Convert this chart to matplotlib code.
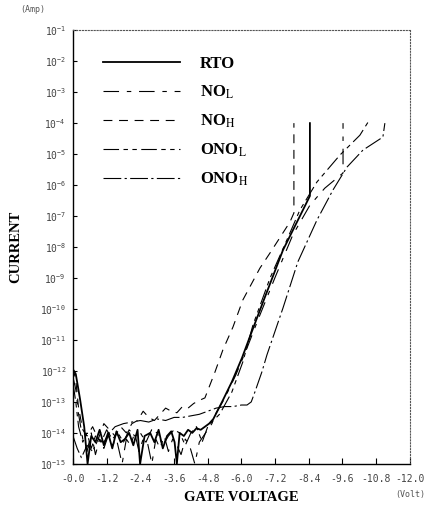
import matplotlib.pyplot as plt
import numpy as np

plt.rcParams['mathtext.fontset'] = 'stix'

# gate voltage (V) and log10 of current (A)
rto_v = [0.0, -0.10, -0.25, -0.40, -0.52, -0.65, -0.80, -0.95, -1.10, -1.25, -1.40, -1.55,
         -1.70, -1.85, -2.00, -2.15, -2.30, -2.39, -2.55, -2.75, -2.90, -3.05, -3.20, -3.35,
         -3.50, -3.62, -3.70, -3.80, -3.95, -4.10, -4.25, -4.40, -4.55, -4.70, -4.85, -5.00,
         -5.31, -5.66, -6.02, -6.30, -6.73, -7.48, -7.98, -8.44, -8.44]
rto_logi = [-11.95, -12.1, -12.9, -13.8, -15.0, -14.1, -14.3, -13.9, -14.4, -14.0, -14.5, -13.95,
            -14.3, -14.2, -14.0, -14.4, -13.9, -15.0, -14.1, -14.0, -14.3, -13.9, -14.5, -14.1,
            -13.95, -14.3, -15.0, -14.0, -14.1, -13.9, -14.0, -13.85, -13.9, -13.8, -13.7, -13.55,
            -13.0, -12.35, -11.58, -10.9, -9.87, -8.1, -7.19, -6.35, -4.0]

nol_v = [0.0, -0.10, -0.20, -0.35, -0.50, -0.65, -0.80, -0.95, -1.10, -1.25, -1.40, -1.55,
         -1.75, -1.90, -2.05, -2.20, -2.35, -2.50, -2.65, -2.81, -2.95, -3.10, -3.25, -3.40,
         -3.55, -3.70, -3.85, -4.00, -4.15, -4.34, -4.50, -4.65, -4.80, -4.95,
         -5.06, -5.41, -5.80, -6.20, -6.59, -7.19, -7.83, -8.44, -8.97, -9.62, -9.62]
nol_logi = [-12.2, -12.6, -13.4, -14.2, -14.6, -14.0, -14.7, -14.2, -14.5, -14.1, -14.4, -14.2,
            -15.0, -14.2, -14.4, -14.0, -14.6, -14.2, -14.3, -15.0, -14.2, -14.5, -14.1, -14.6,
            -14.2, -14.4, -14.7, -14.2, -14.4, -15.0, -14.3, -14.1, -13.9, -13.7,
            -13.42, -12.87, -12.13, -11.26, -10.35, -9.0, -7.61, -6.65, -6.1, -5.61, -4.0]

noh_v = [0.0, -0.10, -0.20, -0.35, -0.50, -0.70, -0.90, -1.10, -1.30, -1.50, -1.70, -1.90,
         -2.10, -2.30, -2.50, -2.70, -2.90, -3.10, -3.30, -3.50, -3.70, -3.90, -4.10, -4.30,
         -4.50, -4.70, -5.06, -5.34, -5.70, -6.05, -6.66, -7.02, -7.73, -7.87, -7.87]
noh_logi = [-11.9, -12.3, -13.2, -13.9, -14.1, -13.8, -14.2, -13.7, -13.9, -14.1, -13.8, -14.0,
            -13.7, -13.6, -13.3, -13.5, -13.6, -13.4, -13.2, -13.3, -13.35, -13.15, -13.2, -13.05,
            -12.95, -12.87, -12.03, -11.32, -10.58, -9.71, -8.68, -8.19, -7.19, -6.9, -4.0]

onol_v = [0.0, -0.10, -0.20, -0.35, -0.50, -0.65, -0.80, -1.00, -1.20, -1.40, -1.60, -1.80,
          -2.00, -2.20, -2.40, -2.60, -2.80, -3.00, -3.20, -3.40, -3.60, -3.80, -4.00, -4.20,
          -4.40, -4.60, -4.80, -5.00, -5.23, -5.66, -6.05, -6.41, -7.02, -7.62, -8.08, -8.69,
          -9.51, -10.22, -10.51]
onol_logi = [-12.4, -13.0, -13.8, -14.3, -14.0, -14.5, -14.1, -14.3, -13.9, -14.2, -14.0, -14.3,
             -13.9, -14.1, -14.0, -14.3, -13.9, -14.0, -14.4, -14.1, -13.9, -14.0, -14.4, -14.0,
             -13.8, -14.3, -13.8, -13.6, -13.39, -12.68, -11.71, -10.52, -9.0, -7.77, -6.81, -5.9,
             -5.03, -4.39, -3.97]

onoh_v = [0.0, -0.15, -0.30, -0.50, -0.70, -0.90, -1.10, -1.30, -1.50, -1.80, -2.10, -2.40,
          -2.70, -3.00, -3.30, -3.60, -3.90, -4.20, -4.50, -4.80, -5.10, -5.40, -5.70, -6.00,
          -6.20, -6.35, -6.48, -6.73, -6.91, -7.48, -8.01, -8.69, -9.26, -9.76, -10.33, -11.04,
          -11.11]
onoh_logi = [-14.1, -14.5, -14.8, -14.4, -14.6, -14.2, -14.3, -14.0, -13.8, -13.7, -13.65, -13.6,
             -13.65, -13.55, -13.6, -13.5, -13.5, -13.45, -13.4, -13.3, -13.2, -13.15, -13.15, -13.1,
             -13.1, -13.0, -12.68, -12.03, -11.48, -9.97, -8.48, -7.13, -6.16, -5.42, -4.87, -4.45,
             -4.0]

x_ticks = [0.0, -1.2, -2.4, -3.6, -4.8, -6.0, -7.2, -8.4, -9.6, -10.8, -12.0]
x_labels = ['-0.0', '-1.2', '-2.4', '-3.6', '-4.8', '-6.0', '-7.2', '-8.4', '-9.6', '-10.8', '-12.0']
y_exps = list(range(-15, 0))

fig = plt.figure(figsize=(4.45, 5.12), dpi=100)
ax = fig.add_axes([0.164, 0.094, 0.757, 0.847])

ax.plot(rto_v, 10.0 ** np.array(rto_logi), color='k', lw=1.3, ls='-', label='RTO')
ax.plot(nol_v, 10.0 ** np.array(nol_logi), color='k', lw=0.8, ls=(0, (14, 7, 4, 7)),
        label=r'NO$_{\rm L}$')
ax.plot(noh_v, 10.0 ** np.array(noh_logi), color='k', lw=0.8, ls=(0, (8, 6)),
        label=r'NO$_{\rm H}$')
ax.plot(onol_v, 10.0 ** np.array(onol_logi), color='k', lw=0.8, ls=(0, (14, 4, 4, 4, 4, 4)),
        label=r'ONO$_{\rm L}$')
ax.plot(onoh_v, 10.0 ** np.array(onoh_logi), color='k', lw=0.8, ls=(0, (16, 3, 2, 3)),
        label=r'ONO$_{\rm H}$')

ax.set_yscale('log')
ax.set_ylim(1e-15, 1e-1)
ax.set_xlim(0, -12)
ax.set_yticks([10.0 ** e for e in y_exps])
ax.set_yticklabels([r'$\mathregular{10^{%d}}$' % e for e in y_exps])
ax.yaxis.set_minor_locator(plt.NullLocator())
ax.set_xticks(x_ticks)
ax.set_xticklabels(x_labels)

for lab in ax.get_xticklabels() + ax.get_yticklabels():
    lab.set_fontfamily('DejaVu Sans Mono')
ax.tick_params(axis='both', direction='in', width=0.8, labelsize=7, labelcolor='#444444')
ax.tick_params(axis='y', length=3, pad=5)
ax.tick_params(axis='x', length=4, pad=7)

ax.spines['left'].set_linewidth(1.0)
ax.spines['bottom'].set_linewidth(1.0)
for s in ['top', 'right']:
    ax.spines[s].set_linestyle(':')
    ax.spines[s].set_linewidth(0.8)
    ax.spines[s].set_color('#555555')

ax.set_ylabel('CURRENT', fontfamily='Liberation Serif', fontweight='bold', fontsize=10.5)
ax.yaxis.set_label_coords(-0.15, 0.5)
ax.set_xlabel('GATE VOLTAGE', fontfamily='Liberation Serif', fontweight='bold', fontsize=10.5)
ax.xaxis.set_label_coords(0.5, -0.062)

fig.text(20 / 445, 1 - 10 / 512, '(Amp)', fontfamily='DejaVu Sans Mono', fontsize=6,
         color='#555555', va='center')
fig.text(395 / 445, 1 - 494 / 512, '(Volt)', fontfamily='DejaVu Sans Mono', fontsize=6,
         color='#555555', va='center')

ax.legend(loc='upper left', bbox_to_anchor=(0.089, 0.94), frameon=False, borderpad=0,
          borderaxespad=0, handlelength=4.6, handletextpad=1.2, labelspacing=0.7,
          prop={'family': 'Liberation Serif', 'weight': 'bold', 'size': 12})

fig.savefig('out.png', dpi=100)
